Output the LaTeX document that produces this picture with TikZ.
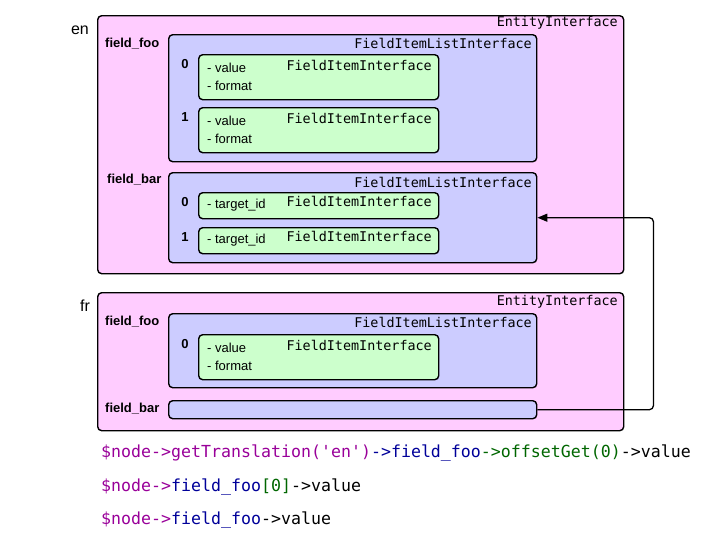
\documentclass[tikz,border=0pt]{standalone}
\usepackage{fontspec}
\setmainfont{Liberation Sans}
\setmonofont{DejaVu Sans Mono}
\usetikzlibrary{arrows.meta}
\definecolor{pinkbg}{HTML}{FFCCFF}
\definecolor{bluebg}{HTML}{CCCCFF}
\definecolor{greenbg}{HTML}{CCFFCC}
\definecolor{cpurple}{HTML}{990099}
\definecolor{cblue}{HTML}{000099}
\definecolor{cgreen}{HTML}{006600}
\tikzset{
  box/.style={draw=black, line width=1.4pt, rounded corners=4pt, inner sep=0pt, anchor=north west},
  entbox/.style={box, fill=pinkbg},
  listbox/.style={box, fill=bluebg},
  itembox/.style={box, fill=greenbg},
  typelbl/.style={font=\fontsize{13.4}{14}\ttfamily, inner sep=0pt, anchor=east},
  fieldlbl/.style={font=\fontsize{13}{14}\selectfont\bfseries, inner sep=0pt, anchor=west},
  idxlbl/.style={font=\fontsize{13}{14}\selectfont\bfseries, inner sep=0pt},
  proplbl/.style={font=\fontsize{13}{14}\selectfont, inner sep=0pt, anchor=west},
  langlbl/.style={font=\fontsize{16}{18}\selectfont, inner sep=0pt},
  codelbl/.style={font=\fontsize{16.6}{18}\ttfamily, inner sep=0pt, anchor=west},
  link/.style={line width=1.3pt, rounded corners=4pt, -{Triangle[length=10pt,width=8pt]}}
}
\begin{document}
\begin{tikzpicture}[x=1pt,y=-1pt]
\useasboundingbox (0,0) rectangle (713,539);
% ---------- en ----------
\node[entbox, minimum width=526pt, minimum height=258pt] (en) at (97,15) {};
\node[langlbl] (enlbl) at (80,30) {en};
\node[typelbl] (entype) at (618,23) {EntityInterface};
\node[fieldlbl] (enfoolbl) at (105,44) {field\_foo};
\node[listbox, minimum width=368pt, minimum height=127pt] (enfoo) at (168,34) {};
\node[typelbl] (enfootype) at (532,43) {FieldItemListInterface};
\node[itembox, minimum width=240pt, minimum height=45pt] (enfoo0) at (198,54) {};
\node[idxlbl] (enfoo0i) at (185,64) {0};
\node[proplbl] (enfoo0a) at (207,68) {- value};
\node[proplbl] (enfoo0b) at (207,86) {- format};
\node[typelbl] (enfoo0t) at (432,65) {FieldItemInterface};
\node[itembox, minimum width=240pt, minimum height=45pt] (enfoo1) at (198,107) {};
\node[idxlbl] (enfoo1i) at (185,117) {1};
\node[proplbl] (enfoo1a) at (207,121) {- value};
\node[proplbl] (enfoo1b) at (207,139) {- format};
\node[typelbl] (enfoo1t) at (432,118) {FieldItemInterface};
\node[fieldlbl] (enbarlbl) at (107,180) {field\_bar};
\node[listbox, minimum width=368pt, minimum height=90pt] (enbar) at (168,172) {};
\node[typelbl] (enbartype) at (532,182) {FieldItemListInterface};
\node[itembox, minimum width=240pt, minimum height=26pt] (enbar0) at (198,192) {};
\node[idxlbl] (enbar0i) at (185,202) {0};
\node[proplbl] (enbar0a) at (207,205) {- target\_id};
\node[typelbl] (enbar0t) at (432,201) {FieldItemInterface};
\node[itembox, minimum width=240pt, minimum height=26pt] (enbar1) at (198,227) {};
\node[idxlbl] (enbar1i) at (185,237) {1};
\node[proplbl] (enbar1a) at (207,240) {- target\_id};
\node[typelbl] (enbar1t) at (432,236) {FieldItemInterface};
% ---------- fr ----------
\node[entbox, minimum width=526pt, minimum height=138pt] (fr) at (97,292) {};
\node[langlbl] (frlbl) at (85,306) {fr};
\node[typelbl] (frtype) at (618,302) {EntityInterface};
\node[fieldlbl] (frfoolbl) at (105,322) {field\_foo};
\node[listbox, minimum width=368pt, minimum height=74pt] (frfoo) at (168,313) {};
\node[typelbl] (frfootype) at (532,322) {FieldItemListInterface};
\node[itembox, minimum width=240pt, minimum height=45pt] (frfoo0) at (198,334) {};
\node[idxlbl] (frfoo0i) at (185,344) {0};
\node[proplbl] (frfoo0a) at (207,348) {- value};
\node[proplbl] (frfoo0b) at (207,366) {- format};
\node[typelbl] (frfoo0t) at (432,345) {FieldItemInterface};
\node[fieldlbl] (frbarlbl) at (105,409) {field\_bar};
\node[listbox, minimum width=368pt, minimum height=18pt] (frbar) at (168,400) {};
% ---------- connector ----------
\draw[link] (frbar.east) -- ++(116,0) |- (enbar.east);
% ---------- code ----------
\node[codelbl] (code1) at (101,453) {\textcolor{cpurple}{\$node->getTranslation('en')}\textcolor{cblue}{->field\_foo}\textcolor{cgreen}{->offsetGet(0)}->value};
\node[codelbl] (code2) at (101,487) {\textcolor{cpurple}{\$node->}\textcolor{cblue}{field\_foo}\textcolor{cgreen}{[0]}->value};
\node[codelbl] (code3) at (101,520) {\textcolor{cpurple}{\$node->}\textcolor{cblue}{field\_foo}->value};
\end{tikzpicture}
\end{document}
